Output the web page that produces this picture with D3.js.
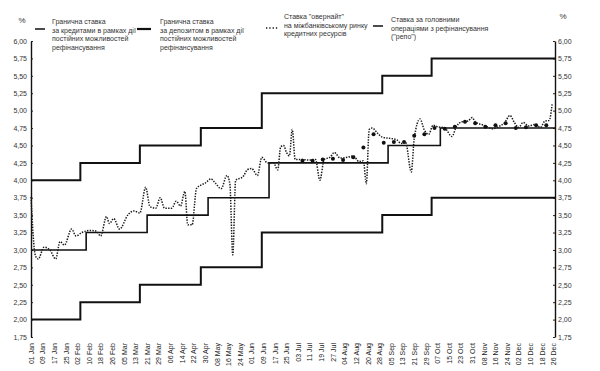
<!DOCTYPE html>
<html>
<head>
<meta charset="utf-8">
<script src="https://cdn.jsdelivr.net/npm/d3@7"></script>
<style>
body { margin: 0; background: #fff; }
svg { display: block; font-family: "Liberation Sans", Arial, sans-serif; }
</style>
</head>
<body>
<script>
// step rates (change dates, 2000)
const corridorDates = ["01-01", "02-04", "03-16", "04-27", "06-08", "08-30", "10-03"];
const lendingRates = [4.00, 4.25, 4.50, 4.75, 5.25, 5.50, 5.75];
const depositRates = [2.00, 2.25, 2.50, 2.75, 3.25, 3.50, 3.75];
const repoDates = ["01-01", "02-08", "03-21", "05-02", "06-13", "09-03", "10-09"];
const repoRates = [3.00, 3.25, 3.50, 3.75, 4.25, 4.50, 4.75];

// overnight rate
const onDates = ["01-01", "01-04", "01-06", "01-10", "01-14", "01-18", "01-21", "01-24", "01-29", "02-01",
  "02-05", "02-11", "02-15", "02-18", "02-22", "02-24", "02-27", "03-02", "03-08", "03-12",
  "03-16", "03-20", "03-23", "03-27", "03-30", "04-02", "04-07", "04-10", "04-13", "04-16",
  "04-18", "04-21", "04-24", "04-27", "04-30", "05-04", "05-07", "05-11", "05-15", "05-17",
  "05-19", "05-21", "05-26", "05-29", "06-01", "06-05", "06-08", "06-12", "06-16", "06-19",
  "06-21", "06-23", "06-25", "06-27", "06-29", "07-01", "07-04", "07-11", "07-15", "07-18",
  "07-21", "07-25", "07-28", "08-01", "08-06", "08-10", "08-14", "08-17", "08-19", "08-21",
  "08-23", "08-27", "08-30", "09-05", "09-09", "09-12", "09-15", "09-19", "09-21", "09-25",
  "09-28", "10-01", "10-04", "10-07", "10-12", "10-17", "10-20", "10-24", "10-28", "10-31",
  "11-02", "11-08", "11-14", "11-19", "11-22", "11-26", "11-29", "12-02", "12-05", "12-09",
  "12-13", "12-17", "12-20", "12-23", "12-25"];
const onRates = [3.76, 2.92, 2.87, 3.04, 3.00, 2.87, 3.12, 3.07, 3.30, 3.20,
  3.25, 3.28, 3.27, 3.20, 3.48, 3.38, 3.45, 3.30, 3.51, 3.56,
  3.53, 3.90, 3.62, 3.60, 3.75, 3.60, 3.60, 3.70, 3.63, 3.84,
  3.36, 3.36, 3.88, 3.93, 3.96, 4.02, 3.96, 3.88, 4.07, 3.95,
  2.93, 4.00, 4.05, 4.15, 4.17, 4.07, 4.33, 4.25, 4.25, 4.15,
  4.48, 4.50, 4.40, 4.35, 4.73, 4.30, 4.30, 4.29, 4.30, 4.00,
  4.30, 4.33, 4.40, 4.32, 4.33, 4.35, 4.27, 4.28, 3.95, 4.73,
  4.75, 4.67, 4.62, 4.60, 4.58, 4.53, 4.55, 4.12, 4.60, 4.88,
  4.72, 4.66, 4.79, 4.77, 4.75, 4.63, 4.77, 4.84, 4.85, 4.90,
  4.84, 4.79, 4.74, 4.78, 4.82, 4.93, 4.83, 4.76, 4.83, 4.78,
  4.80, 4.76, 4.85, 4.86, 5.09];

// weekly markers
const dotDates = ["07-06", "07-13", "07-20", "07-27", "08-03", "08-10", "08-17", "08-24", "08-31",
  "09-07", "09-14", "09-21", "09-28", "10-05", "10-12", "10-19", "10-26", "11-02", "11-09",
  "11-16", "11-23", "11-30", "12-07", "12-14", "12-21"];
const dotRates = [4.28, 4.28, 4.30, 4.31, 4.29, 4.33, 4.47, 4.66, 4.54, 4.55, 4.55, 4.64, 4.66,
  4.75, 4.74, 4.77, 4.84, 4.82, 4.77, 4.79, 4.82, 4.75, 4.76, 4.79, 4.79];

const tickLabels = ["01 Jan", "09 Jan", "17 Jan", "25 Jan", "02 Feb", "10 Feb", "18 Feb", "26 Feb",
  "05 Mar", "13 Mar", "21 Mar", "29 Mar", "06 Apr", "14 Apr", "22 Apr", "30 Apr", "08 May", "16 May",
  "24 May", "01 Jun", "09 Jun", "17 Jun", "25 Jun", "03 Jul", "11 Jul", "19 Jul", "27 Jul", "04 Aug",
  "12 Aug", "20 Aug", "28 Aug", "05 Sep", "13 Sep", "21 Sep", "29 Sep", "07 Oct", "15 Oct", "23 Oct",
  "31 Oct", "08 Nov", "16 Nov", "24 Nov", "02 Dec", "10 Dec", "18 Dec", "26 Dec"];
const yTicks = [1.75, 2.00, 2.25, 2.50, 2.75, 3.00, 3.25, 3.50, 3.75, 4.00, 4.25, 4.50, 4.75, 5.00, 5.25, 5.50, 5.75, 6.00];

const legendLabels = [
  ["Гранична ставка", "за кредитами в рамках дії", "постійних можливостей", "рефінансування"],
  ["Гранична ставка", "за депозитом в рамках дії", "постійних можливостей", "рефінансування"],
  ["Ставка \"овернайт\"", "на міжбанківському ринку", "кредитних ресурсів"],
  ["Ставка за головними", "операціями з рефінансування", "(\"репо\")"]
];

const W = 600, H = 371;
const parseMD = d3.timeParse("%Y-%m-%d");
const md = s => parseMD("2000-" + s);
const parseTick = d3.timeParse("%d %b %Y");

const svg = d3.select("body").append("svg")
  .attr("width", W).attr("height", H);

const x = d3.scaleTime()
  .domain([md("01-01"), md("12-27")])
  .range([31, 555]);
const y = d3.scaleLinear()
  .domain([1.75, 6.00])
  .range([337, 41]);

const fmt = v => v.toFixed(2).replace(".", ",");

// axes
const gl = svg.append("g").attr("transform", "translate(31,0)")
  .call(d3.axisLeft(y).tickValues(yTicks).tickFormat(fmt).tickSize(-2).tickSizeOuter(0).tickPadding(4));
const gr = svg.append("g").attr("transform", "translate(555,0)")
  .call(d3.axisRight(y).tickValues(yTicks).tickFormat(fmt).tickSize(-2).tickSizeOuter(0).tickPadding(3));
[gl, gr].forEach(g => {
  g.select(".domain").attr("stroke", "#111").attr("stroke-width", 1.4);
  g.selectAll(".tick line").attr("stroke", "#222");
  g.selectAll("text").attr("font-size", 7).attr("fill", "#333")
    .attr("font-family", "Liberation Sans, Arial, sans-serif");
});

const gx = svg.append("g").attr("transform", "translate(0,337)")
  .call(d3.axisBottom(x)
    .tickValues(tickLabels.map(t => parseTick(t + " 2000")))
    .tickFormat(d3.timeFormat("%d %b"))
    .tickSize(0));
gx.select(".domain").remove();
gx.selectAll("text")
  .attr("font-size", 7)
  .attr("fill", "#222")
  .attr("font-family", "Liberation Sans, Arial, sans-serif")
  .attr("text-anchor", "end")
  .attr("x", -6)
  .attr("y", 0)
  .attr("dy", "0.32em")
  .attr("transform", "rotate(-90)");

// step lines
const stepLine = d3.line()
  .x(d => x(d.date))
  .y(d => y(d.v))
  .curve(d3.curveStepAfter);

function stepData(dates, rates) {
  const pts = dates.map((d, i) => ({ date: md(d), v: rates[i] }));
  pts.push({ date: md("12-27"), v: rates[rates.length - 1] });
  return pts;
}

svg.append("path").datum(stepData(corridorDates, lendingRates))
  .attr("d", stepLine).attr("fill", "none").attr("stroke", "#111").attr("stroke-width", 2);
svg.append("path").datum(stepData(corridorDates, depositRates))
  .attr("d", stepLine).attr("fill", "none").attr("stroke", "#111").attr("stroke-width", 2);
svg.append("path").datum(stepData(repoDates, repoRates))
  .attr("d", stepLine).attr("fill", "none").attr("stroke", "#111").attr("stroke-width", 1.6);

// overnight
const onLine = d3.line()
  .x(d => x(d.date))
  .y(d => y(d.v))
  .curve(d3.curveMonotoneX);
svg.append("path")
  .datum(onDates.map((d, i) => ({ date: md(d), v: onRates[i] })))
  .attr("d", onLine)
  .attr("fill", "none")
  .attr("stroke", "#1a1a1a")
  .attr("stroke-width", 1.5)
  .attr("stroke-dasharray", "1.4,1.3");

svg.selectAll(".dot")
  .data(dotDates.map((d, i) => ({ date: md(d), v: dotRates[i] })))
  .enter().append("circle")
  .attr("class", "dot")
  .attr("cx", d => x(d.date))
  .attr("cy", d => y(d.v))
  .attr("r", 2)
  .attr("fill", "#111");

// % labels
svg.append("text").attr("x", 22).attr("y", 23).attr("text-anchor", "middle")
  .attr("font-size", 8).attr("fill", "#333").text("%");
svg.append("text").attr("x", 563).attr("y", 19).attr("text-anchor", "middle")
  .attr("font-size", 8).attr("fill", "#333").text("%");

// legend
const legendPos = [
  { x1: 35, x2: 45, ly: 29, tx: 52, ty: 22, w: 1.5, dash: null },
  { x1: 137, x2: 151, ly: 29, tx: 160, ty: 22, w: 2.2, dash: null },
  { x1: 266, x2: 278, ly: 28, tx: 284, ty: 17, w: 1.4, dash: "1.3,2" },
  { x1: 373, x2: 383, ly: 26, tx: 391, ty: 20, w: 1.5, dash: null }
];
legendLabels.forEach((lines, i) => {
  const p = legendPos[i];
  svg.append("line")
    .attr("x1", p.x1).attr("x2", p.x2).attr("y1", p.ly).attr("y2", p.ly)
    .attr("stroke", "#111").attr("stroke-width", p.w)
    .attr("stroke-dasharray", p.dash);
  svg.append("text")
    .attr("x", p.tx).attr("y", p.ty)
    .attr("font-size", 7).attr("fill", "#333")
    .selectAll("tspan").data(lines).enter().append("tspan")
    .attr("x", p.tx)
    .attr("dy", (d, j) => j === 0 ? "0.32em" : "1.22em")
    .text(d => d);
});
</script>
</body>
</html>
